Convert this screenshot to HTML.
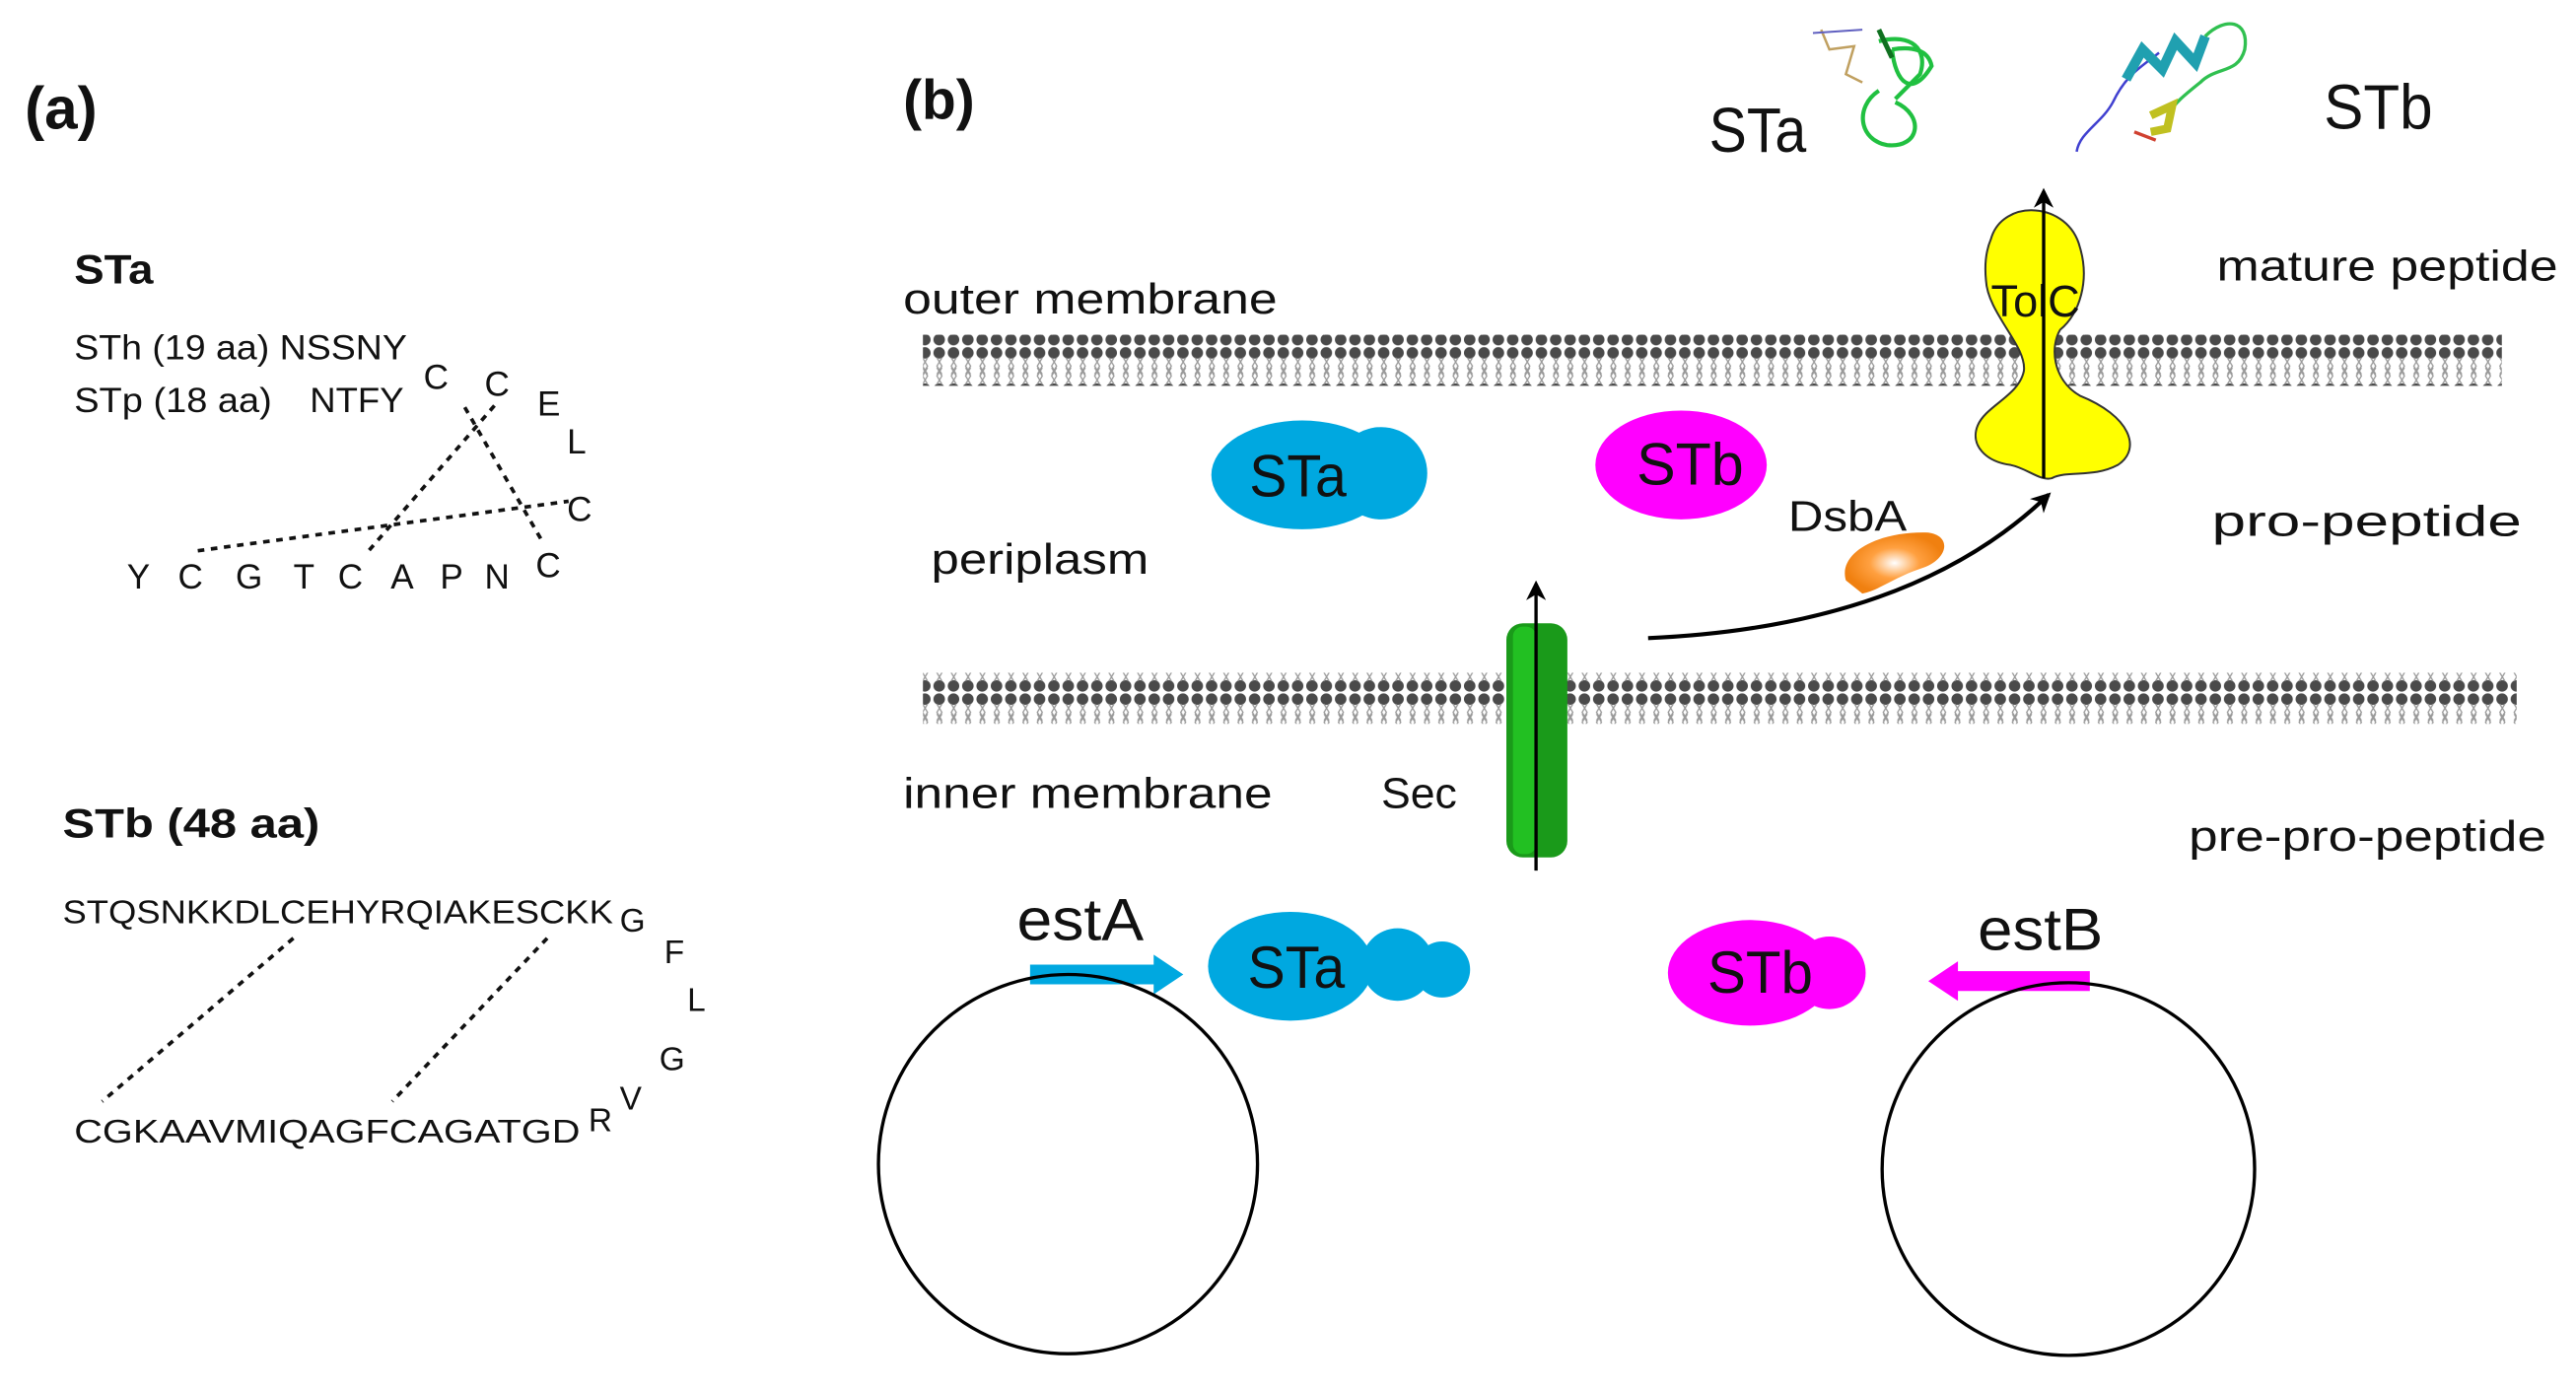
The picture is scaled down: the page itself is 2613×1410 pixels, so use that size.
<!DOCTYPE html>
<html><head><meta charset="utf-8"><style>
html,body{margin:0;padding:0;background:#fff;width:2613px;height:1410px;overflow:hidden}
svg{display:block}
text{font-family:"Liberation Sans",sans-serif;fill:#111}
</style></head><body>
<svg width="2613" height="1410" viewBox="0 0 1563 843" preserveAspectRatio="none" xmlns="http://www.w3.org/2000/svg">
<defs>
<pattern id="mem" x="0" y="0" width="8.7" height="30" patternUnits="userSpaceOnUse">
<circle cx="4.35" cy="4" r="3.5" fill="#4a4a4a"/>
<circle cx="4.35" cy="26" r="3.5" fill="#4a4a4a"/>
<path d="M3 7 L6 12 L3 17 M6 7 L3 12 L6 17 M3 13 L6 18 L3 23 M6 13 L3 18 L6 23" stroke="#999" stroke-width="0.8" fill="none"/>
</pattern>
<marker id="ah" markerWidth="12" markerHeight="12" refX="10" refY="6" orient="auto" markerUnits="userSpaceOnUse"><path d="M0 0 L12 6 L0 12 L3.5 6 Z" fill="#000"/></marker>
<radialGradient id="og" cx="0.5" cy="0.5" r="0.5"><stop offset="0" stop-color="#fff"/><stop offset="0.5" stop-color="#ffa040"/><stop offset="1" stop-color="#f08010"/></radialGradient>
</defs>

<!-- (a) -->
<text x="15" y="78" font-size="36" font-weight="bold">(a)</text>
<text x="45" y="172" font-size="25" font-weight="bold" textLength="48" lengthAdjust="spacingAndGlyphs">STa</text>
<text x="45" y="218" font-size="21" textLength="202" lengthAdjust="spacingAndGlyphs">STh (19 aa) NSSNY</text>
<text x="45" y="250" font-size="21" textLength="120" lengthAdjust="spacingAndGlyphs">STp (18 aa)</text>
<text x="188" y="250" font-size="21" textLength="57" lengthAdjust="spacingAndGlyphs">NTFY</text>
<g font-size="21">
<text x="257" y="236">C</text><text x="294" y="240">C</text><text x="326" y="252">E</text>
<text x="344" y="275">L</text><text x="344" y="316">C</text>
<text x="77" y="357">Y</text><text x="108" y="357">C</text><text x="143" y="357">G</text>
<text x="178" y="357">T</text><text x="205" y="357">C</text><text x="237" y="357">A</text>
<text x="267" y="357">P</text><text x="294" y="357">N</text><text x="325" y="350">C</text>
</g>
<g stroke="#111" stroke-width="2.2" stroke-dasharray="4,4" fill="none">
<line x1="282" y1="247" x2="330" y2="330"/>
<line x1="300" y1="246" x2="222" y2="336"/>
<line x1="120" y1="334" x2="345" y2="304"/>
</g>
<text x="38" y="508" font-size="25" font-weight="bold" textLength="156" lengthAdjust="spacingAndGlyphs">STb (48 aa)</text>
<text x="38" y="560" font-size="20" textLength="334" lengthAdjust="spacingAndGlyphs">STQSNKKDLCEHYRQIAKESCKK</text>
<g font-size="20">
<text x="376" y="565">G</text><text x="403" y="584">F</text><text x="417" y="613">L</text>
<text x="400" y="649">G</text><text x="376" y="673">V</text><text x="357" y="686">R</text>
</g>
<text x="45" y="693" font-size="20" textLength="307" lengthAdjust="spacingAndGlyphs">CGKAAVMIQAGFCAGATGD</text>
<g stroke="#111" stroke-width="2.2" stroke-dasharray="4,4" fill="none">
<line x1="178" y1="569" x2="62" y2="668"/>
<line x1="332" y1="569" x2="238" y2="668"/>
</g>

<!-- (b) -->
<text x="548" y="72" font-size="34" font-weight="bold">(b)</text>
<rect x="560" y="203" width="958" height="31" fill="url(#mem)"/>
<rect x="560" y="408" width="967" height="31" fill="url(#mem)"/>
<g font-size="26">
<text x="548" y="190" textLength="227" lengthAdjust="spacingAndGlyphs">outer membrane</text>
<text x="565" y="348" textLength="132" lengthAdjust="spacingAndGlyphs">periplasm</text>
<text x="548" y="490" textLength="224" lengthAdjust="spacingAndGlyphs">inner membrane</text>
<text x="838" y="490" textLength="46" lengthAdjust="spacingAndGlyphs">Sec</text>
<text x="1345" y="170" textLength="207" lengthAdjust="spacingAndGlyphs">mature peptide</text>
<text x="1342" y="325" textLength="188" lengthAdjust="spacingAndGlyphs">pro-peptide</text>
<text x="1328" y="516" textLength="217" lengthAdjust="spacingAndGlyphs">pre-pro-peptide</text>
<text x="1085" y="322" textLength="72" lengthAdjust="spacingAndGlyphs">DsbA</text>
</g>
<text x="1037" y="92" font-size="38" textLength="59" lengthAdjust="spacingAndGlyphs">STa</text>
<text x="1410" y="78" font-size="38" textLength="66" lengthAdjust="spacingAndGlyphs">STb</text>

<!-- structures -->
<g fill="none" stroke-width="2.5">
<path d="M1140 55 C1125 65,1128 85,1145 88 C1165 90,1168 70,1150 62 M1140 25 C1160 20,1170 30,1165 45 L1150 60 M1148 30 C1150 50,1160 60,1172 40 C1170 30,1160 28,1148 30" stroke="#20c040"/>
<path d="M1105 18 L1110 30 L1125 28 L1120 45 L1130 50" stroke="#c0a060" stroke-width="1.5"/>
<path d="M1100 20 L1130 18" stroke="#6060c0" stroke-width="1.2"/>
<path d="M1140 18 L1148 35" stroke="#107020" stroke-width="3"/>
<path d="M1260 92 C1262 80,1275 75,1282 62 C1290 45,1300 40,1310 32" stroke="#4040d0" stroke-width="1.5"/>
<path d="M1290 48 L1300 30 L1312 42 L1320 25 L1332 38 L1338 22" stroke="#20a0b0" stroke-width="6"/>
<path d="M1338 22 C1350 10,1365 12,1362 30 C1358 45,1345 40,1335 50 C1325 58,1320 62,1315 70" stroke="#30c050" stroke-width="2"/>
<path d="M1305 70 L1318 64 L1315 78 L1305 80" stroke="#c0c020" stroke-width="5"/>
<path d="M1295 80 L1308 85" stroke="#d04030" stroke-width="2"/>
</g>

<!-- TolC -->
<path d="M1208 145 C1215 120,1255 122,1262 150 C1268 170,1262 190,1250 200 C1244 210,1245 230,1262 240 C1292 252,1300 272,1285 282 C1270 290,1255 285,1245 290 C1238 292,1230 284,1220 282 C1205 280,1195 270,1200 258 C1205 246,1225 240,1228 225 C1230 210,1206 190,1205 170 C1204 160,1205 152,1208 145 Z" fill="#ffff00" stroke="#333" stroke-width="1.2"/>
<text x="1208" y="192" font-size="27">TolC</text>
<line x1="1240" y1="290" x2="1240" y2="116" stroke="#000" stroke-width="2" marker-end="url(#ah)"/>

<!-- Sec -->
<rect x="914" y="378" width="37" height="142" rx="10" fill="#1a9a1a"/>
<rect x="918" y="380" width="14" height="138" rx="6" fill="#22c022"/>
<line x1="932" y1="528" x2="932" y2="354" stroke="#000" stroke-width="2" marker-end="url(#ah)"/>

<!-- curved arrow -->
<path d="M1000 387 Q1160 380 1243 300" fill="none" stroke="#000" stroke-width="2.5" marker-end="url(#ah)"/>

<!-- DsbA blob -->
<path d="M1120 352 C1115 335,1140 322,1170 323 C1185 325,1182 340,1165 345 C1150 350,1140 358,1130 360 Z" fill="url(#og)"/>

<!-- periplasm proteins -->
<ellipse cx="790" cy="288" rx="55" ry="33" fill="#00a8e0"/>
<circle cx="838" cy="287" r="28" fill="#00a8e0"/>
<text x="758" y="301" font-size="36" textLength="59" lengthAdjust="spacingAndGlyphs">STa</text>
<ellipse cx="1020" cy="282" rx="52" ry="33" fill="#ff00ff"/>
<text x="993" y="294" font-size="36" textLength="65" lengthAdjust="spacingAndGlyphs">STb</text>

<!-- cytoplasm proteins -->
<ellipse cx="783" cy="586" rx="50" ry="33" fill="#00a8e0"/>
<circle cx="848" cy="585" r="22" fill="#00a8e0"/>
<circle cx="875" cy="588" r="17" fill="#00a8e0"/>
<text x="757" y="599" font-size="36" textLength="59" lengthAdjust="spacingAndGlyphs">STa</text>
<ellipse cx="1062" cy="590" rx="50" ry="32" fill="#ff00ff"/>
<circle cx="1110" cy="590" r="22" fill="#ff00ff"/>
<text x="1036" y="602" font-size="36" textLength="64" lengthAdjust="spacingAndGlyphs">STb</text>

<text x="617" y="570" font-size="36" textLength="77" lengthAdjust="spacingAndGlyphs">estA</text>
<path d="M625 585 L700 585 L700 579 L718 591 L700 603 L700 597 L625 597 Z" fill="#00a8e0"/>
<text x="1200" y="576" font-size="36" textLength="76" lengthAdjust="spacingAndGlyphs">estB</text>
<path d="M1268 589 L1188 589 L1188 583 L1170 595 L1188 607 L1188 601 L1268 601 Z" fill="#ff00ff"/>

<circle cx="648" cy="706" r="115" fill="none" stroke="#000" stroke-width="2"/>
<circle cx="1255" cy="709" r="113" fill="none" stroke="#000" stroke-width="2"/>
</svg>
</body></html>
